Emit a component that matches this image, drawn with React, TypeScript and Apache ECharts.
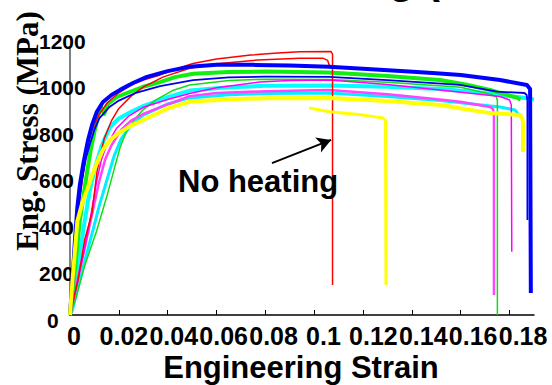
import React, { useEffect, useRef } from 'react';
import * as echarts from 'echarts';

// Axis ticks
const strainTicks = [0, 0.02, 0.04, 0.06, 0.08, 0.1, 0.12, 0.14, 0.16, 0.18];
const stressTicks = [0, 200, 400, 600, 800, 1000, 1200];

// Engineering stress-strain curves: [strain, stress (MPa)]
const red1: [number, number][] = [
  [0, 0], [0.001, 120], [0.002, 300], [0.003, 420], [0.004, 520], [0.006, 680], [0.0075, 770],
  [0.009, 828], [0.012, 900], [0.0152, 949], [0.02, 995], [0.025, 1030], [0.03, 1052],
  [0.0369, 1075], [0.043, 1100], [0.0504, 1126], [0.06, 1146], [0.074, 1164], [0.085, 1173],
  [0.094, 1179], [0.1068, 1180], [0.1075, 1168], [0.1075, 134],
];
const red2: [number, number][] = [
  [0, 0], [0.0033, 157], [0.006, 336], [0.009, 457], [0.011, 636], [0.0125, 720], [0.014, 790],
  [0.017, 870], [0.02, 925], [0.025, 980], [0.03, 1020], [0.038, 1065], [0.049, 1105],
  [0.06, 1125], [0.077, 1142], [0.094, 1150], [0.1035, 1150], [0.1055, 1140], [0.1064, 1112],
];
const blueThick: [number, number][] = [
  [0, 0], [0.001, 150], [0.002, 330], [0.003, 480], [0.004, 580], [0.0055, 680], [0.0074, 784],
  [0.009, 850], [0.011, 910], [0.0135, 954], [0.017, 985], [0.0205, 1008], [0.026, 1040],
  [0.0315, 1066], [0.04, 1092], [0.049, 1112], [0.06, 1120], [0.075, 1120], [0.09, 1117],
  [0.106, 1112], [0.12, 1103], [0.1388, 1090], [0.15, 1082], [0.16, 1075], [0.1761, 1052],
  [0.1871, 1030], [0.1884, 1012], [0.1887, 98],
];
const blueThin: [number, number][] = [
  [0, 0], [0.0015, 220], [0.003, 440], [0.005, 610], [0.0065, 700], [0.008, 760], [0.01, 830],
  [0.012, 880], [0.016, 930], [0.02, 960], [0.027, 995], [0.0369, 1025], [0.0504, 1052],
  [0.065, 1064], [0.08, 1067], [0.106, 1066], [0.13, 1052], [0.1597, 1030], [0.1749, 1000],
  [0.1861, 994], [0.187, 985], [0.1873, 960], [0.1873, 425],
];
const greenThick: [number, number][] = [
  [0, 0], [0.002, 200], [0.004, 420], [0.007, 640], [0.0085, 740], [0.01, 820], [0.0115, 890],
  [0.0125, 935], [0.014, 900], [0.0155, 945], [0.019, 975], [0.0233, 994], [0.03, 1022],
  [0.0369, 1043], [0.043, 1065], [0.0504, 1080], [0.065, 1088], [0.08, 1090], [0.106, 1086],
  [0.13, 1070], [0.1515, 1052], [0.162, 1032], [0.172, 1008], [0.1832, 972], [0.1845, 965],
];
const green2: [number, number][] = [
  [0, 0], [0.002, 60], [0.006, 220], [0.011, 380], [0.015, 528], [0.018, 650], [0.0205, 750],
  [0.023, 820], [0.026, 870], [0.03, 920], [0.035, 962], [0.042, 1005], [0.049, 1030],
  [0.065, 1050], [0.08, 1056], [0.106, 1055], [0.13, 1042], [0.16, 1020], [0.172, 990],
  [0.1745, 978], [0.175, 960], [0.175, 0],
];
const magenta1: [number, number][] = [
  [0, 0], [0.0053, 260], [0.008, 412], [0.011, 604], [0.013, 700], [0.015, 760], [0.019, 835],
  [0.024, 890], [0.03, 930], [0.04, 965], [0.049, 992], [0.06, 1018], [0.0778, 1043],
  [0.09, 1050], [0.106, 1052], [0.13, 1032], [0.1515, 1008], [0.1761, 978], [0.18, 963],
  [0.1807, 940], [0.1809, 283],
];
const magenta2: [number, number][] = [
  [0, 0], [0.004, 200], [0.008, 400], [0.012, 600], [0.0145, 700], [0.017, 760], [0.021, 830],
  [0.025, 870], [0.03, 900], [0.037, 931], [0.043, 955], [0.049, 980], [0.06, 994],
  [0.08, 1002], [0.106, 1008], [0.13, 988], [0.1515, 965], [0.1597, 955], [0.172, 931],
  [0.1732, 922], [0.1736, 900], [0.1736, 90],
];
const cyanThick: [number, number][] = [
  [0, 0], [0.001, 40], [0.003, 200], [0.006, 420], [0.008, 550], [0.01, 650], [0.013, 760],
  [0.0164, 842], [0.02, 880], [0.025, 910], [0.03, 935], [0.04, 975], [0.049, 1005],
  [0.065, 1020], [0.08, 1026], [0.106, 1028], [0.13, 1022], [0.1515, 1012], [0.165, 1000],
  [0.1761, 985], [0.1843, 975], [0.19, 965],
];
const cyan2: [number, number][] = [
  [0, 0], [0.001, 22], [0.004, 157], [0.0094, 380], [0.012, 490], [0.015, 600], [0.018, 710],
  [0.021, 790], [0.025, 850], [0.03, 895], [0.04, 945], [0.049, 972], [0.065, 986],
  [0.08, 992], [0.106, 994], [0.13, 978], [0.1515, 960], [0.1761, 931], [0.1822, 918],
  [0.1835, 900],
];
const yellowThick: [number, number][] = [
  [0, 0], [0.001, 150], [0.003, 420], [0.005, 500], [0.007, 560], [0.009, 625], [0.011, 680],
  [0.0135, 740], [0.0164, 784], [0.02, 815], [0.025, 848], [0.03, 873], [0.04, 925],
  [0.049, 955], [0.065, 966], [0.08, 970], [0.106, 972], [0.13, 958], [0.1515, 940],
  [0.172, 904], [0.1843, 896], [0.1852, 880], [0.1855, 860], [0.1855, 730],
];
const yellowShort: [number, number][] = [
  [0.0979, 927], [0.1065, 910], [0.12, 895], [0.1282, 882], [0.1292, 870], [0.1294, 134],
];

// Arrow pointing at the unheated specimen's fracture
const arrowFrom: [number, number] = [0.0827, 680];
const arrowTo: [number, number] = [0.1069, 784];

const SANS = '"Liberation Sans", Arial, Helvetica, sans-serif';
const SERIF = '"Liberation Serif", "Times New Roman", Times, serif';

export default function App() {
  const ref = useRef<HTMLDivElement>(null);

  useEffect(() => {
    if (!ref.current) return;
    const chart = echarts.init(ref.current, null, { renderer: 'svg' });

    const curves = [
      { name: 'cyan2', data: cyan2, color: '#00f0ff', width: 3 },
      { name: 'cyanThick', data: cyanThick, color: '#00ffff', width: 4 },
      { name: 'green2', data: green2, color: '#11dd11', width: 1.5 },
      { name: 'magenta2', data: magenta2, color: '#ff44ff', width: 2.5 },
      { name: 'magenta1', data: magenta1, color: '#ff00ff', width: 1.5 },
      { name: 'greenThick', data: greenThick, color: '#11ee11', width: 4 },
      { name: 'red2', data: red2, color: '#ff0000', width: 1.5 },
      { name: 'red1', data: red1, color: '#ff0000', width: 1.5 },
      { name: 'blueThin', data: blueThin, color: '#0000ee', width: 1.8 },
      { name: 'blueThick', data: blueThick, color: '#0000ff', width: 4 },
      { name: 'yellowThick', data: yellowThick, color: '#ffff00', width: 4 },
      { name: 'yellowShort', data: yellowShort, color: '#ffff00', width: 3 },
    ];

    const series: any[] = curves.map((c) => ({
      name: c.name,
      type: 'line',
      xAxisIndex: 0,
      yAxisIndex: 0,
      data: c.data,
      showSymbol: false,
      symbol: 'none',
      silent: true,
      lineStyle: { color: c.color, width: c.width, join: 'round' },
      z: 2,
    }));

    series.push({
      type: 'line',
      xAxisIndex: 0,
      yAxisIndex: 0,
      data: [],
      silent: true,
      z: 5,
      markLine: {
        silent: true,
        symbol: ['none', 'arrow'],
        symbolSize: [12, 14],
        label: { show: false },
        lineStyle: { color: '#000', width: 2, type: 'solid' },
        data: [[{ coord: arrowFrom }, { coord: arrowTo }]],
      },
    });

    chart.setOption({
      animation: false,
      backgroundColor: '#fff',
      grid: [
        { left: 70, top: 47, width: 464, height: 268 },
        { left: 74, top: 47, width: 474, height: 268 },
        { left: 70, top: 41.5, width: 464, height: 278.5 },
      ],
      xAxis: [
        {
          gridIndex: 0, type: 'value', min: 0, max: 0.19, interval: 0.02,
          axisLine: { show: true, onZero: false, lineStyle: { color: '#000', width: 1.5 } },
          axisTick: {
            show: true, inside: true, length: 5,
            customValues: strainTicks.slice(1),
            lineStyle: { color: '#000', width: 1 },
          },
          axisLabel: { show: false },
          splitLine: { show: false },
        },
        {
          gridIndex: 1, type: 'value', min: 0, max: 0.19, interval: 0.02,
          axisLine: { show: false }, axisTick: { show: false }, splitLine: { show: false },
          axisLabel: {
            customValues: strainTicks,
            formatter: (v: number) => String(v),
            margin: 8,
            color: '#000', fontSize: 25, fontWeight: 'bold', fontFamily: SANS,
          },
        },
        { gridIndex: 2, type: 'value', show: false, min: 0, max: 0.19 },
      ],
      yAxis: [
        {
          gridIndex: 0, type: 'value', min: 0, max: 1200, interval: 200,
          axisLine: { show: true, onZero: false, lineStyle: { color: '#808080', width: 2 } },
          axisTick: { show: false }, axisLabel: { show: false }, splitLine: { show: false },
        },
        { gridIndex: 1, type: 'value', show: false, min: 0, max: 1200 },
        {
          gridIndex: 2, type: 'value', min: 0, max: 1200, interval: 200,
          axisLine: { show: false }, axisTick: { show: false }, splitLine: { show: false },
          axisLabel: {
            customValues: stressTicks,
            align: 'left',
            margin: 31,
            formatter: (v: number) => (v === 0 ? '{z|0}' : String(v)),
            color: '#000', fontSize: 21, fontWeight: 'bold', fontFamily: SANS,
            rich: {
              z: { padding: [0, 0, 0, 8], color: '#000', fontSize: 21, fontWeight: 'bold', fontFamily: SANS },
            },
          },
        },
      ],
      series,
      graphic: [
        {
          type: 'text', x: 440, y: -1, silent: true,
          style: { text: 'Heating (', font: `bold 42px ${SANS}`, fill: '#000', textAlign: 'right', textVerticalAlign: 'bottom' },
        },
        {
          type: 'text', x: 27, y: 131, rotation: Math.PI / 2, silent: true,
          style: { text: 'Eng. Stress (MPa)', font: `bold 31px ${SERIF}`, fill: '#000', textAlign: 'center', textVerticalAlign: 'middle' },
        },
        {
          type: 'text', x: 301, y: 367, silent: true,
          style: { text: 'Engineering Strain', font: `bold 31px ${SANS}`, fill: '#000', textAlign: 'center', textVerticalAlign: 'middle' },
        },
        {
          type: 'text', x: 178, y: 181, silent: true, z: 10,
          style: { text: 'No heating', font: `bold 31px ${SANS}`, fill: '#000', textAlign: 'left', textVerticalAlign: 'middle' },
        },
      ],
    });

    return () => chart.dispose();
  }, []);

  return (
    <div
      ref={ref}
      style={{ position: 'fixed', left: 0, top: 0, width: 552, height: 385, background: '#fff' }}
    />
  );
}
